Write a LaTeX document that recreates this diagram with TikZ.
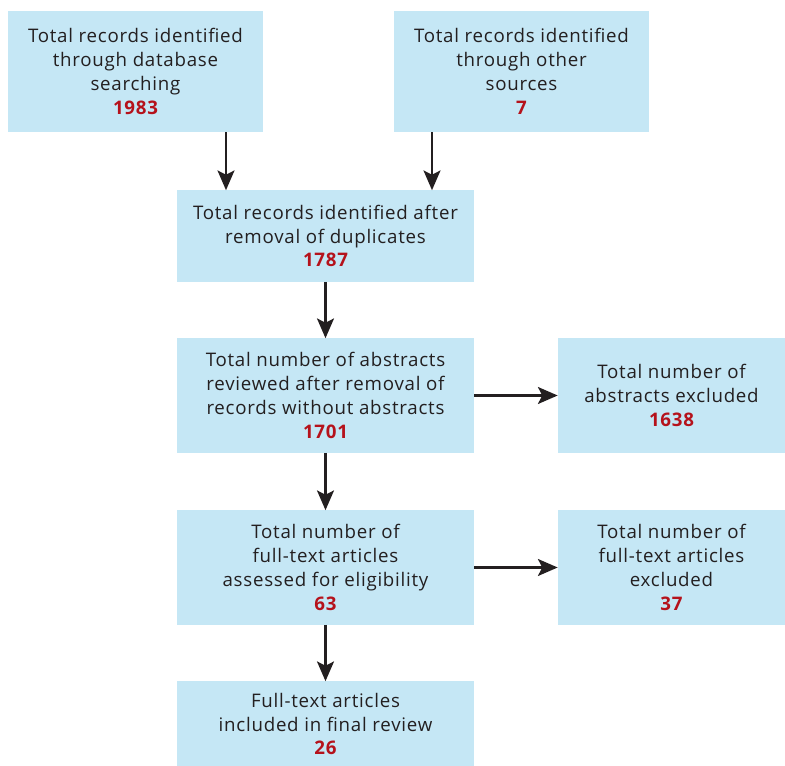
\documentclass[tikz,border=0pt]{standalone}
\usepackage{fontspec}
\setmainfont[LetterSpace=4]{Open Sans}
\usepackage{tikz}
\usetikzlibrary{arrows.meta}
\definecolor{boxblue}{HTML}{C5E7F5}
\definecolor{numred}{HTML}{B5121B}
\definecolor{inkgray}{HTML}{231F20}
\newcommand{\cnt}[1]{{\color{numred}\bfseries #1}}

\begin{document}
\begin{tikzpicture}[x=0.025cm, y=-0.025cm,
		box/.style={fill=boxblue, draw=none, align=center, inner sep=0pt,
			text=inkgray, font=\fontsize{13.3}{17}\selectfont},
		wide/.style={box, minimum width=7.425cm, minimum height=2.85cm},
		side/.style={box, minimum width=5.675cm, minimum height=2.85cm},
		srcbox/.style={box, minimum width=6.375cm, minimum height=3.025cm},
		flow/.style={draw=inkgray, line width=1.9pt,
			-{Stealth[length=14pt, width=12pt, inset=3pt]}}]
	\useasboundingbox (0,0) rectangle (785,766);
	% sources
	\node[srcbox] (db) at (135.5,71.5) {Total records identified\\through database\\searching\\\cnt{1983}};
	\node[srcbox] (other) at (521.5,71.5) {Total records identified\\through other\\sources\\\cnt{7}};
	% screening
	\node[wide, minimum height=2.275cm] (dedup) at (325.5,236) {Total records identified after\\removal of duplicates\\\cnt{1787}};
	\node[wide] (abstr) at (325.5,395.5) {Total number of abstracts\\reviewed after removal of\\records without abstracts\\\cnt{1701}};
	\node[side] (abex) at (671.5,395.5) {Total number of\\abstracts excluded\\\cnt{1638}};
	\node[wide] (full) at (325.5,567.5) {Total number of\\full-text articles\\assessed for eligibility\\\cnt{63}};
	\node[side] (fullex) at (671.5,567.5) {Total number of\\full-text articles\\excluded\\\cnt{37}};
	\node[wide, minimum height=2.125cm] (final) at (325.5,724) {Full-text articles\\included in final review\\\cnt{26}};
	\coordinate (dbx) at (226,0);
	\coordinate (otherx) at (432,0);
	\path
		(db.south -| dbx) edge[flow] (dedup.north -| dbx)
		(other.south -| otherx) edge[flow] (dedup.north -| otherx)
		(dedup) edge[flow] (abstr)
		(abstr) edge[flow] (abex) edge[flow] (full)
		(full) edge[flow] (fullex) edge[flow] (final);
\end{tikzpicture}
\end{document}
